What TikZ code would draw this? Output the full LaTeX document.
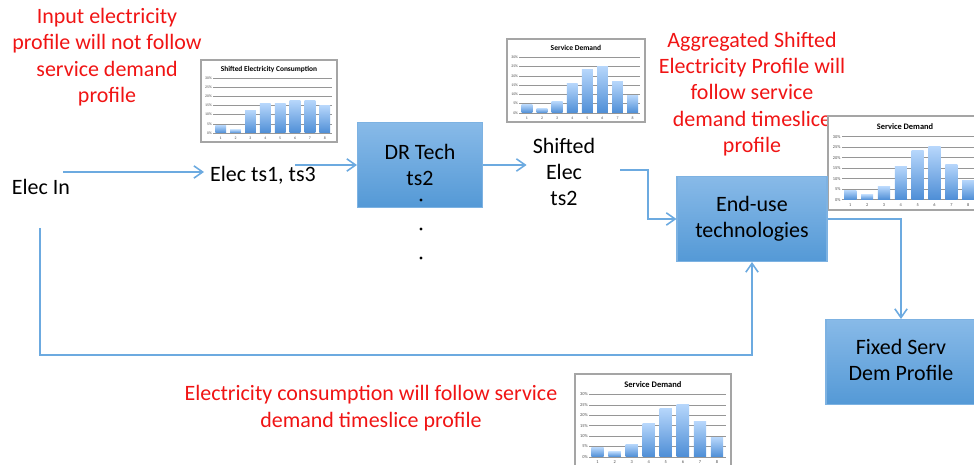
\documentclass[tikz,border=0pt]{standalone}
\usepackage{fontspec}
\setmainfont{Carlito}
\usetikzlibrary{arrows.meta}

\definecolor{flowblue}{RGB}{108,170,224}
\definecolor{boxtop}{RGB}{136,186,232}
\definecolor{boxbot}{RGB}{84,153,214}
\definecolor{boxline}{RGB}{125,178,226}
\definecolor{notered}{RGB}{240,20,20}
\definecolor{bartop}{RGB}{182,214,251}
\definecolor{barbot}{RGB}{78,142,214}
\definecolor{gridgrey}{RGB}{150,150,150}
\definecolor{framegrey}{RGB}{165,165,165}

\newcommand{\diagfont}{\fontsize{12.5}{15}\selectfont}

\tikzset{
  chartframe/.style={draw=framegrey,fill=white,line width=0.6pt},
  gridline/.style={draw=gridgrey,line width=0.3pt},
  barfill/.style={top color=bartop,bottom color=barbot},
  charttitle/.style={inner sep=0pt,font=\bfseries\fontsize{\chF}{\chF}\selectfont},
  ticklabel/.style={inner sep=0.6pt,text=black!70,font=\fontsize{\chG}{\chG}\selectfont}
}

% small bar chart: #1,#2 top left corner, #3 width, #4 height, #5 title, #6 bar values (%)
\newcommand{\minichart}[6]{%
  \begin{scope}[shift={(#1,#2)}]
    \pgfmathsetmacro\chL{0.09*#3}
    \pgfmathsetmacro\chR{0.965*#3}
    \pgfmathsetmacro\chT{0.22*#4}
    \pgfmathsetmacro\chB{0.89*#4}
    \pgfmathsetmacro\chS{(\chR-\chL)/8}
    \pgfmathsetmacro\chF{0.031*#3}
    \pgfmathsetmacro\chG{0.016*#3}
    \filldraw[chartframe] (0,0) rectangle (#3,#4);
    \node[charttitle] at ({0.5*#3},{0.11*#4}) {#5};
    \foreach \v in {0,5,...,30}{
      \draw[gridline] (\chL,{\chB-(\chB-\chT)*\v/30}) -- (\chR,{\chB-(\chB-\chT)*\v/30});
      \node[ticklabel,anchor=east] at (\chL,{\chB-(\chB-\chT)*\v/30}) {\v\%};
    }
    \foreach \h [count=\i] in {#6}{
      \shade[barfill] ({\chL+(\i-0.86)*\chS},\chB) rectangle ({\chL+(\i-0.14)*\chS},{\chB-(\chB-\chT)*\h/30});
      \node[ticklabel] at ({\chL+(\i-0.5)*\chS},{0.95*#4}) {\i};
    }
  \end{scope}}

\begin{document}
\begin{tikzpicture}[x=0.02cm,y=-0.02cm,
  flow/.style={draw=flowblue,line width=0.9pt,-{Straight Barb[length=5pt,width=7pt]}},
  techbox/.style={rectangle,draw=boxline,line width=0.6pt,top color=boxtop,bottom color=boxbot,
    minimum height=1.7cm,align=center,font=\diagfont},
  note/.style={text=notered,align=center,font=\diagfont},
  lbl/.style={align=center,font=\diagfont}]
  \useasboundingbox (0,0) rectangle (974,465);

  % red remarks
  \node[note] (note1) at (107,57) {Input electricity\\profile will not follow\\service demand\\profile};
  \node[note] (note2) at (752,94) {Aggregated Shifted\\Electricity Profile will\\follow service\\demand timeslice\\profile};
  \node[note] (note3) at (371,408) {Electricity consumption will follow service\\demand timeslice profile};

  % profiles
  \minichart{201}{60}{136}{82}{Shifted Electricity Consumption}{4.2,1.8,12.2,16,16,17.8,17.8,14.9}
  \minichart{507}{39}{138}{83}{Service Demand}{4.5,2.4,6.1,15.8,23.3,25.1,16.9,9.3}
  \minichart{828}{116}{154}{94}{Service Demand}{4.5,2.4,6.1,15.8,23.3,25.1,16.9,9.3}
  \minichart{575}{374}{156}{93}{Service Demand}{4.5,2.4,6.1,15.8,23.3,25.1,16.9,9.3}

  % flow
  \node[lbl] (elecin) at (41,187) {Elec In};
  \node[lbl] (ts13) at (263,175) {Elec ts1, ts3};
  \node[techbox,minimum width=2.5cm] (drtech) at (420,165) {DR Tech\\ts2};
  \node[lbl] (shifted) at (564,172) {Shifted\\Elec\\ts2};
  \node[techbox,minimum width=3cm] (enduse) at (752,219) {\strut End-use\\\strut technologies};
  \node[techbox,minimum width=3cm] (fixed) at (901,362) {\strut Fixed Serv\\\strut Dem Profile};

  \foreach \y in {200,229,258}
    \fill (421,\y) circle (0.9pt);

  \coordinate (a1) at (63,172);
  \coordinate (a2) at (295,165);
  \coordinate (a4) at (620,170);
  \coordinate (b1) at (40,228);
  \coordinate (b2) at (40,355);

  \draw[flow] (a1) -- (a1 -| ts13.west);
  \draw[flow] (a2) -- (a2 -| drtech.west);
  \draw[flow] (drtech.east) -- (drtech.east -| shifted.west);
  \draw[flow] (a4) -- ++(28,0) |- (enduse.west);
  \draw[flow] (enduse.east) -| (fixed.north);
  \draw[flow] (b1) -- (b2) -| (enduse.south);
\end{tikzpicture}
\end{document}
